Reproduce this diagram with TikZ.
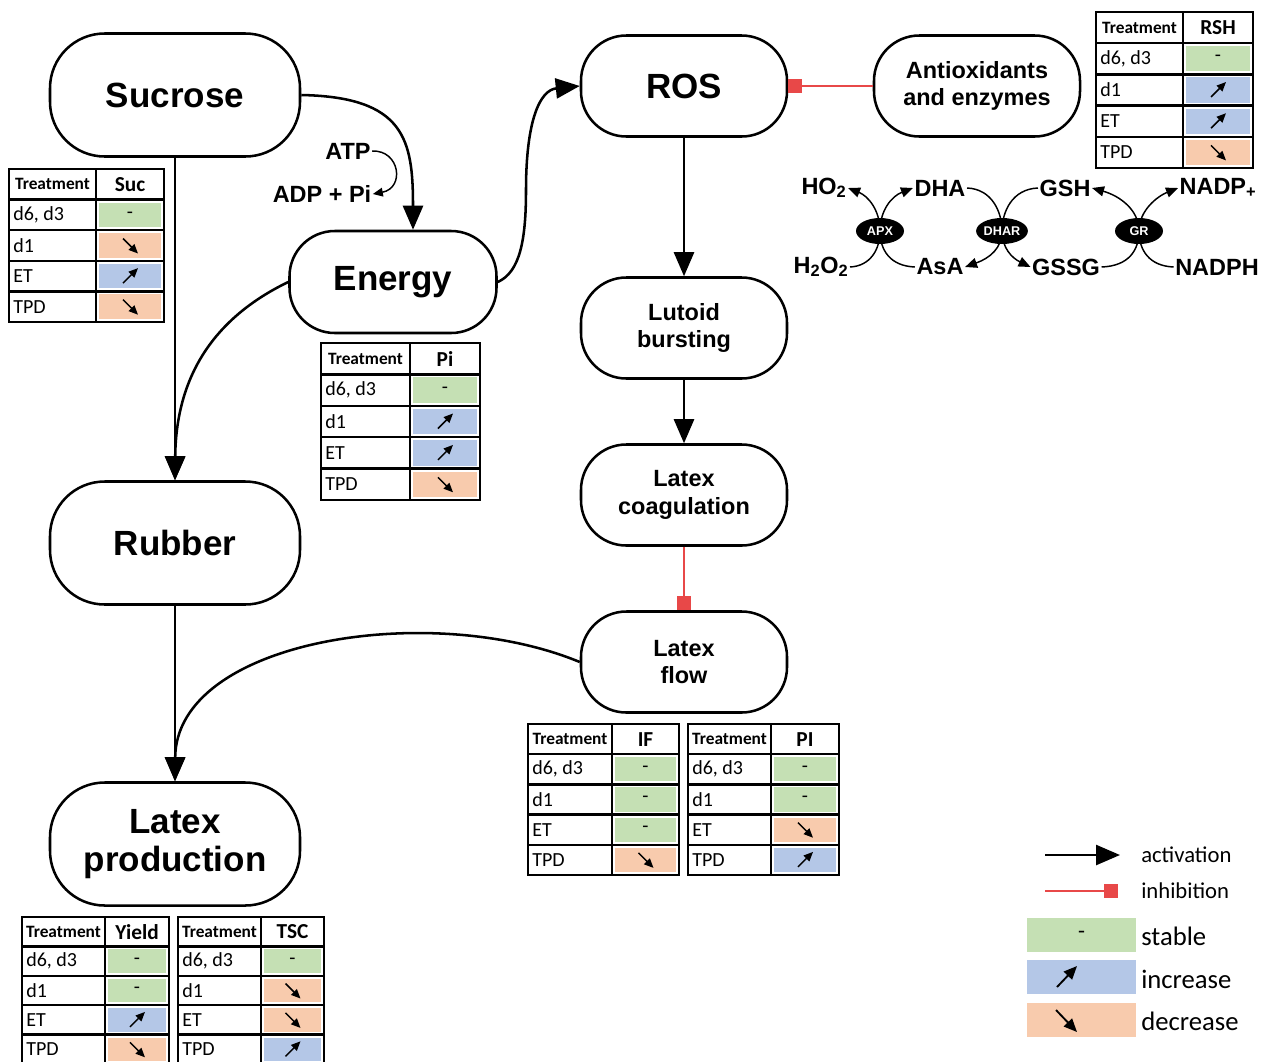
\documentclass[tikz,border=0pt]{standalone}
\usepackage{fontspec}
\setmainfont{Liberation Sans}
\newfontfamily\calib{Carlito}
\usetikzlibrary{arrows.meta,shapes.geometric,backgrounds}
\definecolor{cg}{RGB}{197,224,180}
\definecolor{cb}{RGB}{180,199,231}
\definecolor{co}{RGB}{248,203,173}
\definecolor{inh}{RGB}{232,72,72}
\newcommand\fbig{\fontsize{26.25}{28.5}\selectfont\bfseries}
\newcommand\fmid{\fontsize{17.6}{20.5}\selectfont\bfseries}
\tikzset{
  bignode/.style={draw,line width=1.9pt,rounded corners=41pt,minimum width=187.5pt,minimum height=92.25pt,inner sep=0pt,align=center,font=\fbig},
  midnode/.style={draw,line width=1.9pt,rounded corners=34pt,minimum width=154.5pt,minimum height=75.75pt,inner sep=0pt,align=center,font=\fmid},
  act/.style={line width=1.9pt,-{Triangle[length=18pt,width=15pt]}},
  inhib/.style={inh,line width=1.6pt,-{Square[length=10.5pt,width=10.5pt]}},
  smallarr/.style={line width=1.1pt,-{Triangle[length=7.5pt,width=6.5pt]}},
  cyc/.style={line width=1.1pt,-{Triangle[length=9pt,width=7.5pt]}},
  lbl/.style={font=\fmid,inner sep=1pt},
  enz/.style={ellipse,fill=black,text=white,minimum width=36pt,minimum height=19.5pt,inner sep=0pt,font=\fontsize{9.5}{11}\selectfont\bfseries},
  tabline/.style={line width=1.9pt},
  rowlab/.style={anchor=west,inner sep=0pt,font=\calib\fontsize{15}{17}\selectfont},
  tabhead/.style={inner sep=0pt,font=\calib\bfseries\fontsize{13}{15}\selectfont},
  tabval/.style={inner sep=0pt,font=\calib\bfseries\fontsize{16}{18}\selectfont},
  symdash/.style={inner sep=0pt,font=\calib\fontsize{15}{17}\selectfont},
  symarr/.style={line width=1.1pt,-{Triangle[length=7pt,width=6pt]}},
  symarrL/.style={line width=1.4pt,-{Triangle[length=10pt,width=8.5pt]}},
  legtxt/.style={anchor=west,inner sep=0pt,font=\calib\fontsize{17}{20}\selectfont},
  legtxtb/.style={anchor=west,inner sep=0pt,font=\calib\fontsize{20}{24}\selectfont},
  swatch/.style={minimum width=81.75pt,minimum height=25.5pt,inner sep=0pt,font=\calib\fontsize{17}{20}\selectfont},
}
\newcommand\symg[3]{\node[symdash] (#3) at (#1,#2) {-};}
\newcommand\symb[3]{\draw[symarr] (#1-7,#2+7) -- (#1+8,#2-8);}
\newcommand\symo[3]{\draw[symarr] (#1-7,#2-7) -- (#1+8,#2+8);}
\newcommand\ttab[8]{%
  \pgfmathsetmacro\trh{(#6-#5)/5}%
  \pgfmathsetmacro\tx{(#3+#4)/2}%
  \foreach \v [count=\i] in {#8}{%
    \pgfmathsetmacro\tya{#5+\i*\trh}%
    \pgfmathsetmacro\tyb{#5+(\i+1)*\trh}%
    \pgfmathsetmacro\ty{(\tya+\tyb)/2}%
    \fill[fill=c\v] (#3+3,\tya+3) rectangle (#4-3,\tyb-3);
    \node[rowlab] (#1r\i) at (#2+4,\ty) {\ifcase\i\or d6, d3\or d1\or ET\or TPD\fi};
    \csname sym\v\endcsname{\tx}{\ty}{#1s\i}
  }
  \draw[tabline] (#2,#5) rectangle (#4,#6);
  \draw[tabline] (#3,#5) -- (#3,#6);
  \foreach \k in {1,...,4}{\draw[tabline] (#2,{#5+\k*\trh}) -- (#4,{#5+\k*\trh});}
  \node[tabhead] (#1h) at ({(#2+#3)/2},{#5+\trh/2}) {Treatment};
  \node[tabval] (#1v) at (\tx,{#5+\trh/2}) {#7};
}
\begin{document}
\begin{tikzpicture}[x=0.75pt,y=-0.75pt]
\begin{pgfonlayer}{background}
\fill[white] (0,0) rectangle (1266,1061);
\end{pgfonlayer}
\useasboundingbox (0,0) rectangle (1266,1061);

% main nodes
\node[bignode] (sucrose) at (175,95) {Sucrose};
\node[midnode,font=\fbig,minimum width=155.25pt,minimum height=76.5pt] (energy) at (393,282) {Energy};
\node[midnode,font=\fbig] (ros) at (684,86) {ROS};
\node[midnode] (antiox) at (977,86) {Antioxidants\\and enzymes};
\node[midnode] (lutoid) at (684,328) {Lutoid\\bursting};
\node[midnode] (coag) at (684,495) {Latex\\coagulation};
\node[midnode] (flow) at (684,662) {Latex\\flow};
\node[bignode] (rubber) at (175,543) {Rubber};
\node[bignode] (latexprod) at (175,844) {Latex\\production};

\node[lbl] (atp) at (348,151) {ATP};
\node[lbl] (adp) at (322,194) {ADP + Pi};

% connectors
\draw[act] (sucrose.east) .. controls (405,97) and (413,140) .. ([xshift=15pt]energy.north);
\draw[act] (sucrose.south) -- (rubber.north);
\draw[act] (energy.west) .. controls (220,315) and (176,370) .. (rubber.north);
\draw[act] (energy.east) .. controls (520,272) and (526,240) .. (526,190) .. controls (526,120) and (540,90) .. (ros.west);
\draw[smallarr] (atp.east) .. controls (400,150) and (405,188) .. (adp.east);
\draw[act] (ros.south) -- (lutoid.north);
\draw[act] (lutoid.south) -- (coag.north);
\draw[inhib] (coag.south) -- (flow.north);
\draw[inhib] (antiox.west) -- (ros.east);
\draw[act] (rubber.south) -- (latexprod.north);
\draw[act] (flow.west) .. controls (430,600) and (176,640) .. (latexprod.north);

% ascorbate-glutathione cycle
\node[lbl] (ho2) at (824,188) {HO\textsubscript{2}};
\node[lbl] (dha) at (940,188) {DHA};
\node[lbl] (gsh) at (1065,188) {GSH};
\node[lbl] (nadp) at (1218,188) {NADP\textsubscript{+}};
\node[lbl] (h2o2) at (821,267) {H\textsubscript{2}O\textsubscript{2}};
\node[lbl] (asa) at (940,267) {AsA};
\node[lbl] (gssg) at (1066,267) {GSSG};
\node[lbl] (nadph) at (1217,267) {NADPH};
\node[enz] (apx) at (880,231) {APX};
\node[enz] (dhar) at (1002,231) {DHAR};
\node[enz] (gr) at (1139,231) {GR};
\begin{pgfonlayer}{background}
\draw[cyc] (h2o2.east) .. controls (870,266) and (880,250) .. (apx.center) .. controls (880,210) and (868,196) .. (ho2.east);
\draw[cyc] (asa.west) .. controls (890,266) and (880,250) .. (apx.center) .. controls (880,210) and (892,196) .. (dha.west);
\draw[cyc] (dha.east) .. controls (992,189) and (1002,212) .. (dhar.center) .. controls (1002,248) and (990,258) .. (asa.east);
\draw[cyc] (gsh.west) .. controls (1012,189) and (1002,212) .. (dhar.center) .. controls (1002,248) and (1012,258) .. (gssg.west);
\draw[cyc] (gssg.east) .. controls (1129,266) and (1139,250) .. (gr.center) .. controls (1139,210) and (1120,196) .. (gsh.east);
\draw[cyc] (nadph.west) .. controls (1149,266) and (1139,250) .. (gr.center) .. controls (1139,210) and (1158,196) .. (nadp.west);
\end{pgfonlayer}

% tables
\ttab{suc}{9}{96}{164}{169}{322}{Suc}{g,o,b,o}
\ttab{rsh}{1096}{1183}{1253}{12}{168}{RSH}{g,b,b,o}
\ttab{pit}{321}{410}{480}{343}{500}{Pi}{g,b,b,o}
\ttab{ift}{528}{612}{679}{724}{875}{IF}{g,g,g,o}
\ttab{pif}{688}{771}{839}{724}{875}{PI}{g,g,o,b}
\ttab{yld}{22}{105}{169}{917}{1064}{Yield}{g,g,b,o}
\ttab{tsc}{178}{261}{324}{917}{1064}{TSC}{g,o,o,b}

% legend
\coordinate (la1) at (1045,855);
\coordinate (la2) at (1120,855);
\draw[act] (la1) -- (la2);
\node[legtxt] (lact) at (1141,855) {activation};
\coordinate (li1) at (1045,891);
\coordinate (li2) at (1118,891);
\draw[inhib] (li1) -- (li2);
\node[legtxt] (linh) at (1141,891) {inhibition};
\node[swatch,fill=cg] (sw1) at (1081.5,935) {-};
\node[swatch,fill=cb] (sw2) at (1081.5,977) {};
\node[swatch,fill=co] (sw3) at (1081.5,1020) {};
\draw[symarrL] (1057,987) -- (1077,966);
\draw[symarrL] (1056,1010) -- (1077,1032);
\node[legtxtb] (lst) at (1141,936) {stable};
\node[legtxtb] (lin) at (1141,979) {increase};
\node[legtxtb] (lde) at (1141,1021) {decrease};
\end{tikzpicture}
\end{document}
